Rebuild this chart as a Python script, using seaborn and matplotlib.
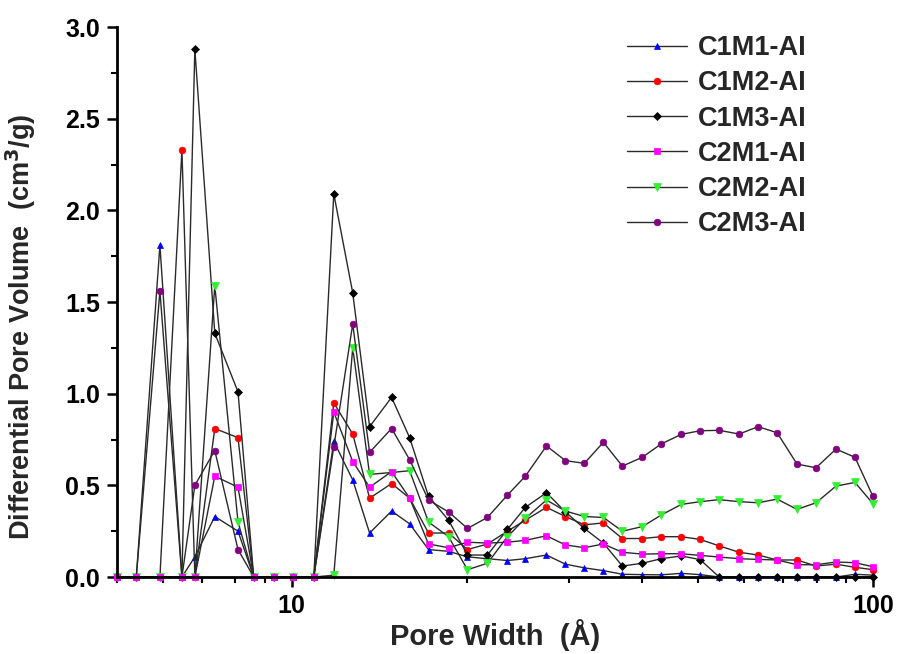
import matplotlib
matplotlib.use("Agg")
import matplotlib.pyplot as plt
import matplotlib.ticker as mticker
import numpy as np
import pandas as pd
import seaborn as sns

# Pore width grid (Å) shared by all samples
pore_width = [5.0, 5.40, 5.93, 6.47, 6.81, 7.37, 8.08, 8.60, 9.31, 10.04,
              10.91, 11.81, 12.73, 13.61, 14.85, 15.95, 17.19, 18.61, 20.06, 21.71,
              23.50, 25.23, 27.43, 29.57, 31.87, 34.37, 37.05, 40.10, 43.22, 46.79,
              50.43, 54.37, 58.86, 63.44, 68.41, 74.03, 79.82, 86.39, 93.14, 100.0]

# Differential pore volume (cm3/g) per sample
c1m1 = [0, 0, 1.81, 0, 0.11, 0.33, 0.25, 0, 0, 0,
        0, 0.74, 0.53, 0.24, 0.36, 0.29, 0.15, 0.14, 0.11, 0.10,
        0.09, 0.10, 0.12, 0.07, 0.05, 0.035, 0.015, 0.013, 0.012, 0.02,
        0.013, 0, 0, 0, 0, 0, 0, 0, 0.015, 0.01]
c1m2 = [0, 0, 0, 2.33, 0, 0.81, 0.76, 0, 0, 0,
        0, 0.95, 0.78, 0.43, 0.51, 0.43, 0.24, 0.24, 0.15, 0.18,
        0.25, 0.31, 0.38, 0.33, 0.285, 0.295, 0.21, 0.21, 0.22, 0.22,
        0.205, 0.17, 0.135, 0.12, 0.093, 0.093, 0.06, 0.07, 0.053, 0.04]
c1m3 = [0, 0, 0, 0, 2.88, 1.33, 1.01, 0, 0, 0,
        0, 2.09, 1.55, 0.82, 0.98, 0.76, 0.44, 0.31, 0.12, 0.12,
        0.26, 0.38, 0.46, 0.355, 0.265, 0.185, 0.06, 0.075, 0.10, 0.115,
        0.095, 0, 0, 0, 0, 0, 0, 0, 0, 0]
c2m1 = [0, 0, 0, 0, 0, 0.55, 0.49, 0, 0, 0,
        0, 0.90, 0.63, 0.49, 0.575, 0.43, 0.18, 0.16, 0.19, 0.185,
        0.19, 0.20, 0.225, 0.175, 0.16, 0.18, 0.135, 0.125, 0.127, 0.127,
        0.118, 0.109, 0.10, 0.096, 0.093, 0.067, 0.067, 0.082, 0.078, 0.056]
c2m2 = [0, 0, 0, 0, 0, 1.59, 0.30, 0, 0, 0,
        0, 0.01, 1.25, 0.56, 0.57, 0.58, 0.30, 0.22, 0.04, 0.075,
        0.22, 0.32, 0.42, 0.36, 0.33, 0.325, 0.25, 0.275, 0.338, 0.396,
        0.411, 0.422, 0.411, 0.405, 0.425, 0.369, 0.405, 0.496, 0.516, 0.40]
c2m3 = [0, 0, 1.56, 0, 0.50, 0.69, 0.15, 0, 0, 0,
        0, 0.71, 1.38, 0.68, 0.81, 0.64, 0.42, 0.355, 0.265, 0.325,
        0.447, 0.55, 0.715, 0.635, 0.62, 0.735, 0.605, 0.653, 0.726, 0.778,
        0.798, 0.80, 0.78, 0.82, 0.787, 0.616, 0.596, 0.698, 0.653, 0.44]

sample_names = ["C1M1-AI", "C1M2-AI", "C1M3-AI", "C2M1-AI", "C2M2-AI", "C2M3-AI"]
sample_values = [c1m1, c1m2, c1m3, c2m1, c2m2, c2m3]
marker_colors = ["#0000ff", "#ff0000", "#000000", "#ff00ff", "#33ee33", "#800080"]
marker_shapes = ["^", "o", "D", "s", "v", "o"]
marker_sizes = [4.8, 4.8, 3.8, 4.6, 5.2, 4.8]

sns.set_theme(style="ticks")
plt.rcParams["font.family"] = ["Liberation Sans", "DejaVu Sans"]
plt.rcParams["font.weight"] = "bold"

fig = plt.figure(figsize=(8.99, 6.54), dpi=100)
ax = fig.add_axes([0.130, 0.1177, 0.841, 0.841])

df = pd.DataFrame({"width": pore_width})
for name, vals in zip(sample_names, sample_values):
    df[name] = vals

# draw C2M1 last so its markers sit on top along the baseline
draw_order = [0, 1, 2, 4, 5, 3]
handles = {}
for i in draw_order:
    name = sample_names[i]
    sns.lineplot(data=df, x="width", y=name, ax=ax, sort=False, estimator=None,
                 color="#2a2a2a", linewidth=1.0,
                 marker=marker_shapes[i], markersize=marker_sizes[i],
                 markerfacecolor=marker_colors[i], markeredgecolor=marker_colors[i],
                 markeredgewidth=0.5, label=name, clip_on=False, legend=False)
    handles[name] = ax.lines[-1]

ax.set_xscale("log")
ax.set_xlim(5, 100)
ax.set_ylim(0, 3.0)

ax.xaxis.set_major_locator(mticker.FixedLocator([10, 100]))
ax.xaxis.set_major_formatter(mticker.FixedFormatter(["10", "100"]))
ax.xaxis.set_minor_locator(mticker.FixedLocator([5, 6, 7, 8, 9, 20, 30, 40, 50, 60, 70, 80, 90]))
ax.xaxis.set_minor_formatter(mticker.NullFormatter())
ax.yaxis.set_major_locator(mticker.MultipleLocator(0.5))
ax.yaxis.set_minor_locator(mticker.MultipleLocator(0.25))
ax.yaxis.set_major_formatter(mticker.FormatStrFormatter("%.1f"))

for side in ["top", "right"]:
    ax.spines[side].set_visible(False)
for side in ["left", "bottom"]:
    ax.spines[side].set_linewidth(2.0)
    ax.spines[side].set_color("black")

ax.tick_params(axis="both", which="major", direction="out", length=7, width=1.8,
               labelsize=18, color="black", labelcolor="black", pad=5)
ax.tick_params(axis="both", which="minor", direction="out", length=4, width=1.5,
               color="black")
for lab in ax.get_xticklabels() + ax.get_yticklabels():
    lab.set_fontweight("bold")

ax.set_xlabel("Pore Width  (Å)", fontsize=21, fontweight="bold", labelpad=1)
ax.set_ylabel("Differential Pore Volume  (cm$^\\mathbf{3}$/g)", fontsize=19.5,
              fontweight="bold")
ax.yaxis.set_label_coords(-0.104, 0.455)

leg = ax.legend([handles[n] for n in sample_names], sample_names,
                loc="upper left", bbox_to_anchor=(0.675, 0.985), frameon=False,
                prop={"weight": "bold", "size": 19.5},
                handlelength=2.2, handletextpad=0.4, labelspacing=0.34,
                borderpad=0, borderaxespad=0)

fig.savefig("out.png", dpi=100, facecolor="white")
